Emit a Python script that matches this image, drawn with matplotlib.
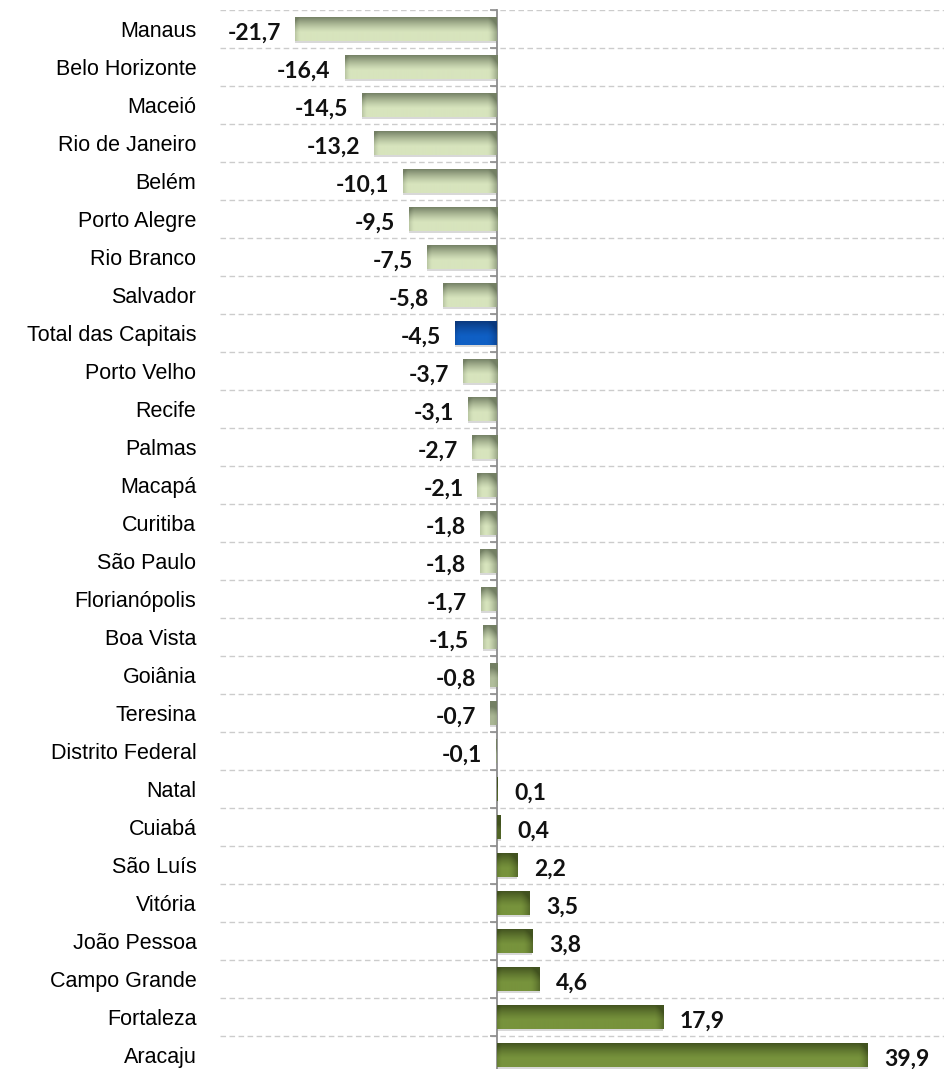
import numpy as np
import matplotlib
matplotlib.use("Agg")
import matplotlib.pyplot as plt
from matplotlib.colors import to_rgb

# Variação por capital (%)
cidades = ["Manaus", "Belo Horizonte", "Maceió", "Rio de Janeiro", "Belém",
           "Porto Alegre", "Rio Branco", "Salvador", "Total das Capitais",
           "Porto Velho", "Recife", "Palmas", "Macapá", "Curitiba", "São Paulo",
           "Florianópolis", "Boa Vista", "Goiânia", "Teresina", "Distrito Federal",
           "Natal", "Cuiabá", "São Luís", "Vitória", "João Pessoa",
           "Campo Grande", "Fortaleza", "Aracaju"]
variacao = [-21.7, -16.4, -14.5, -13.2, -10.1, -9.5, -7.5, -5.8, -4.5,
            -3.7, -3.1, -2.7, -2.1, -1.8, -1.8, -1.7, -1.5, -0.8, -0.7, -0.1,
            0.1, 0.4, 2.2, 3.5, 3.8, 4.6, 17.9, 39.9]
destaque = "Total das Capitais"

W, H = 945, 1069
fig = plt.figure(figsize=(W / 100, H / 100), dpi=100)
ax = fig.add_axes([220 / W, -5 / H, 725 / W, 1064 / H])

xmin, xmax = -29.8, 48.2
altura = 0.63


def cores(v, nome):
    # cor base, cor da borda escura
    if nome == destaque:
        return to_rgb("#0f5fc4"), to_rgb("#0a3474")
    if v < 0:
        return to_rgb("#d7e4bd"), to_rgb("#68745a")
    return to_rgb("#77933c"), to_rgb("#3c4b1c")


def gradiente(v, nome):
    base, escura = cores(v, nome)
    nx = max(3, int(abs(v) * 9.3))
    ny = 24
    t = np.linspace(0, 1, ny)[:, None]
    topo = np.clip(1 - t / 0.65, 0, 1) ** 1.3
    i = np.arange(nx)[None, :]
    borda_dir = np.clip(1 - (nx - 1 - i) / 9.0, 0, 1) ** 1.5
    borda_esq = np.clip(1 - i / 5.0, 0, 1) ** 1.5
    peso = np.clip(0.85 * topo + 0.55 * borda_dir + 0.25 * borda_esq, 0, 0.9)
    img = np.empty((ny, nx, 3))
    for c in range(3):
        img[:, :, c] = base[c] * (1 - peso) + escura[c] * peso
    return img


for k, (nome, v) in enumerate(zip(cidades, variacao)):
    x0, x1 = min(0, v), max(0, v)
    # sombra leve
    ax.barh(k + 0.05, v, left=0, height=altura, color="#d8d8d8", zorder=2,
            linewidth=0)
    ax.imshow(gradiente(v, nome), extent=(x0, x1, k + altura / 2, k - altura / 2),
              aspect="auto", interpolation="bilinear", zorder=6)
    rotulo = f"{v:.1f}".replace(".", ",")
    if v < 0:
        ax.annotate(rotulo, (v, k), xytext=(-10, -3), textcoords="offset points",
                    ha="right", va="center", fontsize=16.5, fontweight="bold",
                    family="Lato", color="#111111")
    else:
        ax.annotate(rotulo, (v, k), xytext=(12, -3), textcoords="offset points",
                    ha="left", va="center", fontsize=16.5, fontweight="bold",
                    family="Lato", color="#111111")

ax.set_xlim(xmin, xmax)
ax.set_ylim(len(cidades) - 0.5, -0.5)

ax.set_yticks(range(len(cidades)))
ax.set_yticklabels(cidades, fontsize=15.5, family="Liberation Sans")
ax.tick_params(axis="y", which="major", length=0, pad=17)
ax.set_yticks(np.arange(len(cidades)) - 0.5, minor=True)
ax.tick_params(axis="y", which="minor", length=0)
ax.grid(which="minor", axis="y", linestyle=(0, (4, 2.5)), color="#cccccc",
        linewidth=1.0)
ax.set_axisbelow(True)
ax.set_xticks([])
for s in ax.spines.values():
    s.set_visible(False)

# eixo vertical no zero com marcas entre as categorias
loc_zero = (0 - xmin) / (xmax - xmin)
eixo = ax.secondary_yaxis(loc_zero)
eixo.set_alignment("left")
eixo.set_yticks(np.arange(len(cidades) + 1) - 0.5)
eixo.tick_params(axis="y", length=5, width=1.2, color="#8c8c8c",
                 direction="out", labelleft=False, labelright=False)
for s in eixo.spines.values():
    s.set_color("#8c8c8c")
    s.set_linewidth(1.3)
eixo.set_zorder(4)

fig.savefig("out.png", dpi=100)
